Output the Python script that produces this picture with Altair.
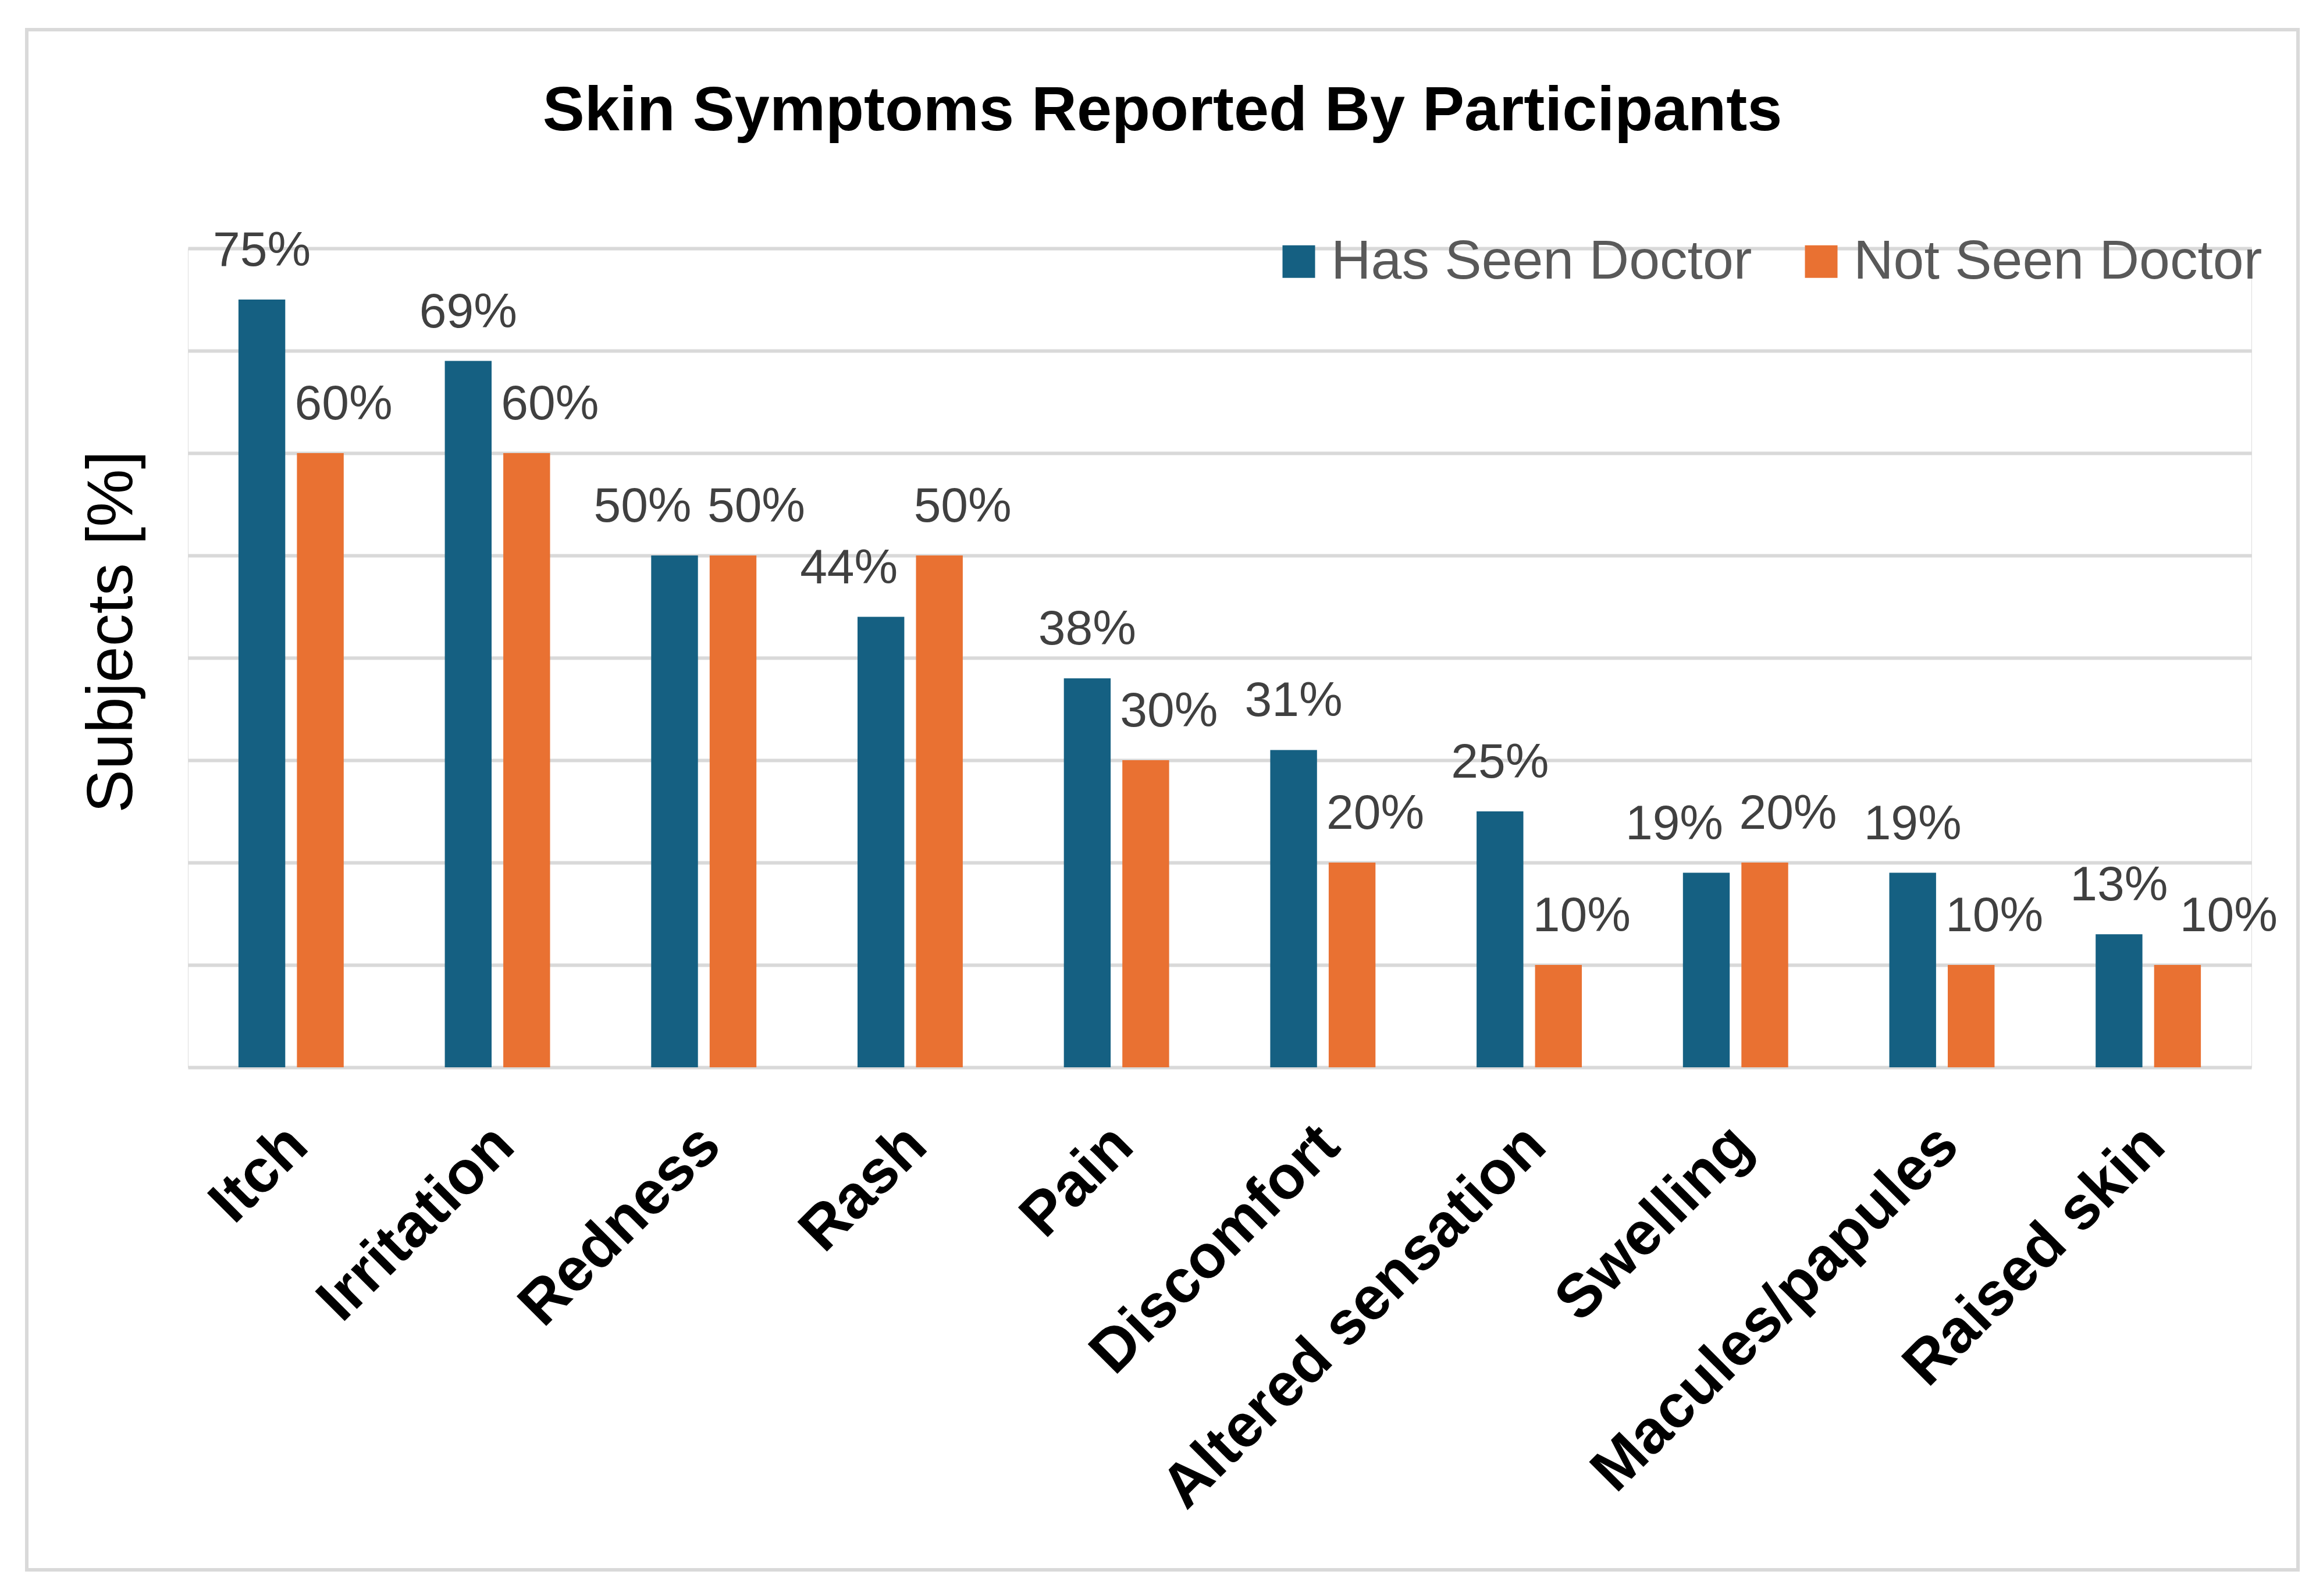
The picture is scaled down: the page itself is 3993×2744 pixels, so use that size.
import altair as alt
import pandas as pd

categories = ["Itch", "Irritation", "Redness", "Rash", "Pain", "Discomfort",
              "Altered sensation", "Swelling", "Macules/papules", "Raised skin"]
series = ["Has Seen Doctor", "Not Seen Doctor"]
has_seen = [75, 69, 50, 44, 38, 31, 25, 19, 19, 13]
not_seen = [60, 60, 50, 50, 30, 20, 10, 20, 10, 10]
y_ticks = [0, 10, 20, 30, 40, 50, 60, 70, 80]

rows = []
for c, a, b in zip(categories, has_seen, not_seen):
    diff = a - b
    rows.append({"category": c, "series": series[0], "value": a, "diff": diff})
    rows.append({"category": c, "series": series[1], "value": b, "diff": diff})
df = pd.DataFrame(rows)

FONT = "Liberation Sans"
W, H = 3547, 1408

x_enc = alt.X("category:N", sort=categories,
              scale=alt.Scale(paddingInner=0.49, paddingOuter=0.245),
              axis=alt.Axis(title=None, labelAngle=-45, labelFontSize=105,
                            labelFontWeight="bold", labelColor="#000000",
                            labelPadding=81, labelOffset=-25, ticks=False, domain=False,
                            labelLimit=3000, labelFont=FONT))
xo_enc = alt.XOffset("series:N", sort=series,
                     scale=alt.Scale(paddingInner=0.2, paddingOuter=0))
y_enc = alt.Y("value:Q", scale=alt.Scale(domain=[0, 80]),
              axis=alt.Axis(values=y_ticks, labels=False, ticks=False, domain=False,
                            grid=True, gridColor="#d9d9d9", gridWidth=6,
                            title="Subjects [%]", titleFontSize=112,
                            titleFontWeight="normal", titleColor="#000000",
                            titleFont=FONT, titleX=-73, titleY=659,
                            titleBaseline="bottom"))

base = alt.Chart(df).transform_calculate(
    label="format(datum.value, '.0f') + '%'"
)

bars = base.mark_bar().encode(
    x=x_enc, xOffset=xo_enc, y=y_enc,
    color=alt.Color("series:N", sort=series,
                    scale=alt.Scale(domain=series, range=["#156082", "#E97132"]),
                    legend=alt.Legend(title=None, orient="none", legendX=1862, legendY=-25,
                                      direction="horizontal", symbolType="square",
                                      symbolSize=3136, symbolStrokeWidth=0,
                                      labelFontSize=95, labelColor="#595959",
                                      labelFont=FONT, labelOffset=8,
                                      columnPadding=71, padding=0, symbolOpacity=1,
                                      labelLimit=3000))
)

def label_layer(cond, dx):
    return base.transform_filter(cond).mark_text(
        fontSize=84, color="#404040", baseline="alphabetic", dy=-58, dx=dx, font=FONT
    ).encode(x=x_enc, xOffset=xo_enc, y=y_enc, text="label:N")

is_blue = alt.datum.series == series[0]
is_orange = alt.datum.series == series[1]
blue_close = (alt.datum.diff <= 0) & (alt.datum.diff >= -6)
orange_close = (alt.datum.diff > 0) & (alt.datum.diff <= 6)

blue_normal = label_layer(is_blue & ~blue_close, 0)
blue_shift = label_layer(is_blue & blue_close, -55)
orange_normal = label_layer(is_orange & ~orange_close, 40)
orange_shift = label_layer(is_orange & orange_close, 88)

border = alt.Chart(alt.Data(values=[{"k": 1}])).mark_rect(
    fillOpacity=0, stroke="#d9d9d9", strokeWidth=6
).encode(x=alt.value(-277), x2=alt.value(3627), y=alt.value(-376), y2=alt.value(2272))

chart = alt.layer(border, bars, blue_normal, blue_shift, orange_normal, orange_shift).properties(
    width=W, height=H,
    padding={"left": 35, "top": 40, "right": 10, "bottom": 10},
    title=alt.TitleParams("Skin Symptoms Reported By Participants", fontSize=108,
                          fontWeight="bold", color="#000000", font=FONT,
                          anchor="middle", frame="bounds", dy=203),
).configure_view(stroke=None).configure(font=FONT)

chart.save("out.html", embed_options={"renderer": "svg", "actions": False})
